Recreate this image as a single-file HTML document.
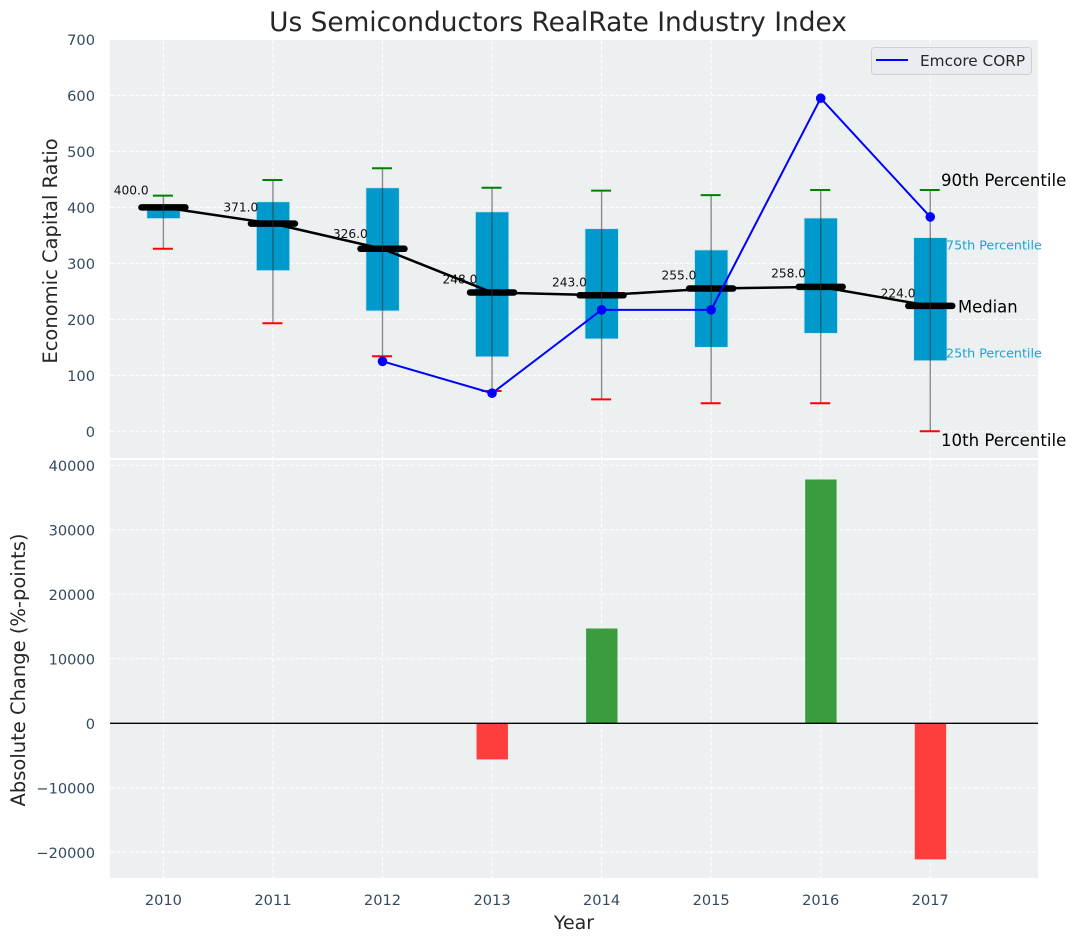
<!DOCTYPE html>
<html>
<head>
<meta charset="utf-8">
<style>
html,body{margin:0;padding:0;background:#fff;width:1076px;height:942px;overflow:hidden}
svg{display:block}
text{font-family:"DejaVu Sans","Liberation Sans",sans-serif}
</style>
</head>
<body>
<svg id="chart" width="1076" height="942" viewBox="0 0 1076 942" xmlns="http://www.w3.org/2000/svg"></svg>
<script>
const years = [2010, 2011, 2012, 2013, 2014, 2015, 2016, 2017];
const p10 = [326, 193, 134, 72, 57, 50, 50, 0];
const p25 = [380, 287, 215, 133, 165, 150, 175, 126];
const median = [400, 371, 326, 248, 243, 255, 258, 224];
const p75 = [400, 410, 435, 392, 362, 324, 381, 346];
const p90 = [421, 449, 470, 435, 430, 422, 431, 431];
const emcore = [null, null, 125, 68, 217, 217, 595, 383];
const change = [0, 0, 0, -5600, 14700, 0, 37800, -21100];
const topTicks = [0, 100, 200, 300, 400, 500, 600, 700];
const bottomTicks = [-20000, -10000, 0, 10000, 20000, 30000, 40000];

const svg = document.getElementById('chart');
const NS = 'http://www.w3.org/2000/svg';
function make(tag, attrs, text) {
  const el = document.createElementNS(NS, tag);
  for (const k in attrs) el.setAttribute(k, attrs[k]);
  if (text !== undefined) el.textContent = text;
  svg.appendChild(el);
  return el;
}
function xAt(i) { return 163.4 + i * 109.55; }
function yTop(v) { return 431.3 - v * 0.5598; }
function yBot(v) { return 723.3 - v * 0.00645; }
const L = 110, R = 1038, T1 = 40, B1 = 458, T2 = 460, B2 = 878;
const tickColor = '#34495e';
const labelColor = '#262626';
const gridDash = '4 2.4';
const tickSize = 14.6;

let el;
el = make('rect', {x: L, y: T1, width: R - L, height: B1 - T1, fill: '#ecf0f1'});


el = make('rect', {x: L, y: T2, width: R - L, height: B2 - T2, fill: '#ecf0f1'});



topTicks.forEach(function (t) {
  const y = yTop(t);
  if (y >= T1 - 1) {
    el = make('line', {x1: L, x2: R, y1: y, y2: y, stroke: '#fff', 'stroke-width': 1, 'stroke-dasharray': gridDash});
    
    
  }
  el = make('text', {x: 95, y: y + 5.5, 'text-anchor': 'end', 'font-size': tickSize, fill: tickColor}, String(t));
  
  
});
bottomTicks.forEach(function (t) {
  const y = yBot(t);
  el = make('line', {x1: L, x2: R, y1: y, y2: y, stroke: '#fff', 'stroke-width': 1, 'stroke-dasharray': gridDash});
  
  
  el = make('text', {x: 95, y: y + 5.5, 'text-anchor': 'end', 'font-size': tickSize, fill: tickColor}, String(t).replace('-', '\u2212'));
  
  
});
years.forEach(function (yr, i) {
  const x = xAt(i);
  el = make('line', {x1: x, x2: x, y1: T1, y2: B1, stroke: '#fff', 'stroke-width': 1, 'stroke-dasharray': gridDash});
  
  
  el = make('line', {x1: x, x2: x, y1: T2, y2: B2, stroke: '#fff', 'stroke-width': 1, 'stroke-dasharray': gridDash});
  
  
  el = make('text', {x: x, y: 905, 'text-anchor': 'middle', 'font-size': tickSize, fill: tickColor}, String(yr));
  
  
});

// boxes
years.forEach(function (yr, i) {
  const x = xAt(i);
  el = make('rect', {x: x - 16.6, y: yTop(p75[i]), width: 33.4, height: yTop(p25[i]) - yTop(p75[i]), fill: '#0099cc', stroke: '#cfe6ee', 'stroke-width': 0.8});
  
  
});
// median labels: the gap above the median grows slightly with the value
years.forEach(function (yr, i) {
  const gap = 7.7 + 0.0235 * median[i];
  el = make('text', {x: xAt(i) - 49.6, y: yTop(median[i]) - gap + 4.4, 'font-size': 12.2, fill: '#111'}, median[i].toFixed(1));
  
  
});
// median connecting line
el = make('polyline', {points: years.map(function (yr, i) { return xAt(i) + ',' + yTop(median[i]); }).join(' '), fill: 'none', stroke: '#000', 'stroke-width': 2.5});


// whiskers, caps, median bars
years.forEach(function (yr, i) {
  const x = xAt(i);
  el = make('line', {x1: x - 22, x2: x + 22, y1: yTop(median[i]), y2: yTop(median[i]), stroke: '#000', 'stroke-width': 6.5, 'stroke-linecap': 'round'});
  
  
  el = make('line', {x1: x, x2: x, y1: yTop(p10[i]), y2: yTop(p90[i]), stroke: '#333', 'stroke-opacity': 0.55, 'stroke-width': 1.4});
  
  
  el = make('line', {x1: x - 10.5, x2: x + 9.5, y1: yTop(p90[i]), y2: yTop(p90[i]), stroke: '#008000', 'stroke-width': 2});
  
  
  el = make('line', {x1: x - 10.5, x2: x + 9.5, y1: yTop(p10[i]), y2: yTop(p10[i]), stroke: '#ff0000', 'stroke-width': 2});
  
  
});
// Emcore series
const emPts = [];
emcore.forEach(function (v, i) { if (v !== null) emPts.push(xAt(i) + ',' + yTop(v)); });
el = make('polyline', {points: emPts.join(' '), fill: 'none', stroke: '#0000ff', 'stroke-width': 2});


emcore.forEach(function (v, i) {
  if (v === null) return;
  el = make('circle', {cx: xAt(i), cy: yTop(v), r: 4.8, fill: '#0000ff'});
  
  
});
// bottom bars
change.forEach(function (v, i) {
  if (v === 0) return;
  const y0 = yBot(0), y1 = yBot(v);
  el = make('rect', {x: xAt(i) - 15.5, y: Math.min(y0, y1), width: 31.4, height: Math.abs(y1 - y0), fill: v > 0 ? '#3a9c3f' : '#ff3d3d'});
  
  
});
el = make('line', {x1: L, x2: R, y1: yBot(0), y2: yBot(0), stroke: '#000', 'stroke-width': 1.3});



// percentile annotations
el = make('text', {x: 941, y: 186, 'font-size': 16.6, fill: '#000'}, '90th Percentile');


el = make('text', {x: 946, y: 249.5, 'font-size': 12.7, fill: '#1ba3d3'}, '75th Percentile');


el = make('text', {x: 958, y: 312.5, 'font-size': 16.4, fill: '#000'}, 'Median');


el = make('text', {x: 946, y: 357.5, 'font-size': 12.7, fill: '#1ba3d3'}, '25th Percentile');


el = make('text', {x: 941, y: 446, 'font-size': 16.6, fill: '#000'}, '10th Percentile');



// legend
el = make('rect', {x: 871.5, y: 47.5, width: 160, height: 27, rx: 3, fill: '#e9ecf1', stroke: '#d0d0d0', 'stroke-width': 1});


el = make('line', {x1: 876, x2: 908, y1: 60, y2: 60, stroke: '#0000ff', 'stroke-width': 2});


el = make('text', {x: 920, y: 66, 'font-size': 15.3, fill: labelColor}, 'Emcore CORP');



// titles
el = make('text', {x: 558, y: 31, 'text-anchor': 'middle', 'font-size': 26.4, fill: labelColor}, 'Us Semiconductors RealRate Industry Index');


el = make('text', {x: 574, y: 929, 'text-anchor': 'middle', 'font-size': 19, fill: labelColor}, 'Year');


el = make('text', {x: 0, y: 0, 'text-anchor': 'middle', 'font-size': 19.5, fill: labelColor, transform: 'translate(57 251) rotate(-90)'}, 'Economic Capital Ratio');


el = make('text', {x: 0, y: 0, 'text-anchor': 'middle', 'font-size': 19.5, fill: labelColor, transform: 'translate(25 670) rotate(-90)'}, 'Absolute Change (%-points)');


</script>
</body>
</html>
